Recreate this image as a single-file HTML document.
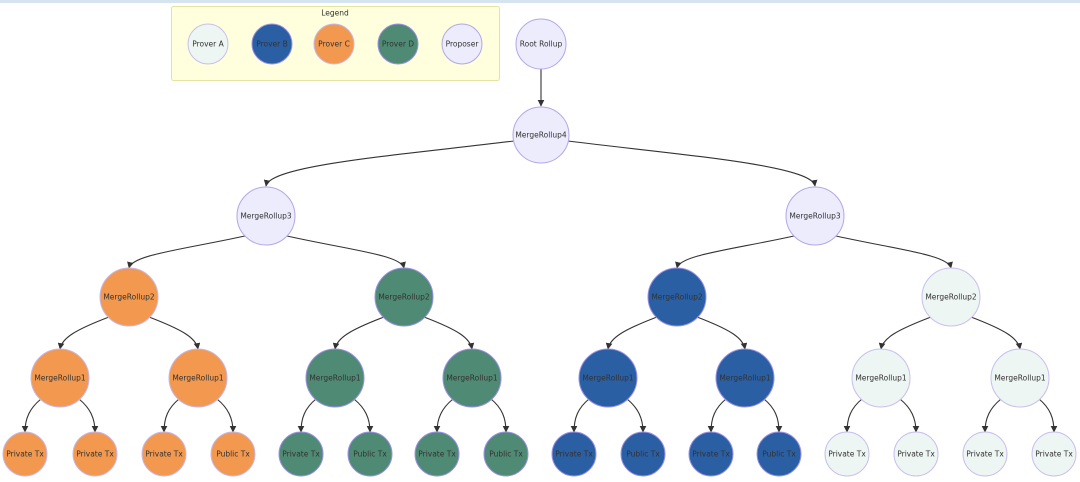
<!DOCTYPE html>
<html><head><meta charset="utf-8"><style>
html,body{margin:0;padding:0;background:#fff;width:1080px;height:482px;overflow:hidden}
text{font-family:"DejaVu Sans","Liberation Sans",sans-serif;font-size:7.5px;fill:#333;text-anchor:middle;dominant-baseline:central}
.e{fill:none;stroke:#333;stroke-width:1.1}
.A{fill:#eef6f3;stroke:#c8bfee;stroke-width:1}
.B{fill:#2a5fa4;stroke:#9b90e6;stroke-width:1}
.C{fill:#f2994f;stroke:#c9b7e6;stroke-width:1}
.D{fill:#4f8a74;stroke:#9b90e6;stroke-width:1}
.P{fill:#ececfd;stroke:#b3a6e8;stroke-width:1}
</style></head><body>
<svg width="1080" height="482" viewBox="0 0 1080 482" xmlns="http://www.w3.org/2000/svg">
<defs><marker id="ar" viewBox="0 0 10 10" refX="9" refY="5" markerWidth="6" markerHeight="6" orient="auto"><path d="M0,0L10,5L0,10z" fill="#333"/></marker></defs>
<rect x="0" y="0" width="1080" height="3" fill="#d6e3f0"/>
<rect x="171.5" y="6.5" width="328" height="74" rx="2" fill="#ffffde" stroke="#e3e3a6"/>
<text x="335" y="13">Legend</text>
<circle class="A" cx="208" cy="44" r="20"/><text x="208" y="44">Prover A</text>
<circle class="B" cx="272" cy="44" r="20"/><text x="272" y="44">Prover B</text>
<circle class="C" cx="334" cy="44" r="20"/><text x="334" y="44">Prover C</text>
<circle class="D" cx="398" cy="44" r="20"/><text x="398" y="44">Prover D</text>
<circle class="P" cx="462" cy="44" r="20"/><text x="462" y="44">Proposer</text>

<g class="e" marker-end="url(#ar)">
<path d="M541,69 L541,106"/>
<path d="M514,141 C400,155 270,165 266,186"/>
<path d="M568,141 C680,155 812,165 815,186"/>
<path d="M245,236 C180,250 132,255 129,268"/>
<path d="M287,236 C350,250 401,255 404,268"/>
<path d="M794,236 C730,250 680,255 677,268"/>
<path d="M836,236 C900,250 948,255 951,268"/>
<path d="M109,317 C75,330 62,338 60,349"/><path d="M149,317 C183,330 196,338 198,349"/>
<path d="M384,317 C350,330 337,338 335,349"/><path d="M424,317 C458,330 470,338 472,349"/>
<path d="M657,317 C623,330 610,338 608,349"/><path d="M697,317 C731,330 743,338 745,349"/>
<path d="M931,317 C897,330 883,338 881,349"/><path d="M971,317 C1005,330 1018,338 1020,349"/>
<path d="M41,399 C30,408 25,418 25,432"/><path d="M79,399 C90,408 95,418 95,432"/>
<path d="M179,399 C168,408 164,418 164,432"/><path d="M217,399 C228,408 233,418 233,432"/>
<path d="M316,399 C305,408 301,418 301,432"/><path d="M354,399 C365,408 370,418 370,432"/>
<path d="M453,399 C442,408 437,418 437,432"/><path d="M491,399 C502,408 506,418 506,432"/>
<path d="M589,399 C578,408 574,418 574,432"/><path d="M627,399 C638,408 643,418 643,432"/>
<path d="M726,399 C715,408 711,418 711,432"/><path d="M764,399 C775,408 779,418 779,432"/>
<path d="M862,399 C851,408 847,418 847,432"/><path d="M900,399 C911,408 916,418 916,432"/>
<path d="M1001,399 C990,408 985,418 985,432"/><path d="M1039,399 C1050,408 1054,418 1054,432"/>
</g>

<circle class="P" cx="541" cy="44" r="25"/><text x="541" y="44">Root Rollup</text>
<circle class="P" cx="541" cy="135" r="28"/><text x="541" y="135">MergeRollup4</text>
<circle class="P" cx="266" cy="216" r="29"/><text x="266" y="216">MergeRollup3</text>
<circle class="P" cx="815" cy="216" r="29"/><text x="815" y="216">MergeRollup3</text>

<circle class="C" cx="129" cy="297" r="29"/><text x="129" y="297">MergeRollup2</text>
<circle class="D" cx="404" cy="297" r="29"/><text x="404" y="297">MergeRollup2</text>
<circle class="B" cx="677" cy="297" r="29"/><text x="677" y="297">MergeRollup2</text>
<circle class="A" cx="951" cy="297" r="29"/><text x="951" y="297">MergeRollup2</text>

<circle class="C" cx="60" cy="378" r="29"/><text x="60" y="378">MergeRollup1</text>
<circle class="C" cx="198" cy="378" r="29"/><text x="198" y="378">MergeRollup1</text>
<circle class="D" cx="335" cy="378" r="29"/><text x="335" y="378">MergeRollup1</text>
<circle class="D" cx="472" cy="378" r="29"/><text x="472" y="378">MergeRollup1</text>
<circle class="B" cx="608" cy="378" r="29"/><text x="608" y="378">MergeRollup1</text>
<circle class="B" cx="745" cy="378" r="29"/><text x="745" y="378">MergeRollup1</text>
<circle class="A" cx="881" cy="378" r="29"/><text x="881" y="378">MergeRollup1</text>
<circle class="A" cx="1020" cy="378" r="29"/><text x="1020" y="378">MergeRollup1</text>

<circle class="C" cx="25" cy="454" r="22"/><text x="25" y="454">Private Tx</text>
<circle class="C" cx="95" cy="454" r="22"/><text x="95" y="454">Private Tx</text>
<circle class="C" cx="164" cy="454" r="22"/><text x="164" y="454">Private Tx</text>
<circle class="C" cx="233" cy="454" r="22"/><text x="233" y="454">Public Tx</text>
<circle class="D" cx="301" cy="454" r="22"/><text x="301" y="454">Private Tx</text>
<circle class="D" cx="370" cy="454" r="22"/><text x="370" y="454">Public Tx</text>
<circle class="D" cx="437" cy="454" r="22"/><text x="437" y="454">Private Tx</text>
<circle class="D" cx="506" cy="454" r="22"/><text x="506" y="454">Public Tx</text>
<circle class="B" cx="574" cy="454" r="22"/><text x="574" y="454">Private Tx</text>
<circle class="B" cx="643" cy="454" r="22"/><text x="643" y="454">Public Tx</text>
<circle class="B" cx="711" cy="454" r="22"/><text x="711" y="454">Private Tx</text>
<circle class="B" cx="779" cy="454" r="22"/><text x="779" y="454">Public Tx</text>
<circle class="A" cx="847" cy="454" r="22"/><text x="847" y="454">Private Tx</text>
<circle class="A" cx="916" cy="454" r="22"/><text x="916" y="454">Private Tx</text>
<circle class="A" cx="985" cy="454" r="22"/><text x="985" y="454">Private Tx</text>
<circle class="A" cx="1054" cy="454" r="22"/><text x="1054" y="454">Private Tx</text>
</svg>
</body></html>
